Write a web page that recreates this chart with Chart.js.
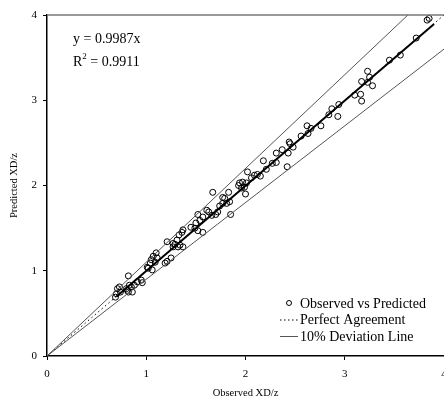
<!DOCTYPE html>
<html>
<head>
<meta charset="utf-8">
<script src="https://cdn.jsdelivr.net/npm/chart.js@4.4.1/dist/chart.umd.min.js"></script>
<style>
  html, body { margin: 0; padding: 0; background: #fff; }
  canvas { display: block; }
</style>
</head>
<body>
<canvas id="chart" width="444" height="398"></canvas>
<script>
// Observed vs predicted values
const observed = [
  0.69, 0.70, 0.71, 0.73, 0.74, 0.80, 0.81, 0.82, 0.83, 0.85, 0.86, 0.88, 0.91, 0.95, 0.96, 0.82,
  1.01, 1.02, 1.04, 1.05, 1.06, 1.07, 1.10, 1.09, 1.11, 1.19, 1.21, 1.25, 1.21, 1.27, 1.29, 1.27, 1.31, 1.32, 1.34, 1.37, 1.33, 1.36, 1.37,
  1.45, 1.49, 1.50, 1.52, 1.52, 1.57, 1.54, 1.57, 1.61, 1.63, 1.66, 1.70, 1.72, 1.67, 1.74, 1.77, 1.81, 1.77, 1.79, 1.83, 1.84, 1.85,
  1.93, 1.94, 1.97, 1.96, 1.99, 2.00, 2.01, 2.02, 2.06, 2.09, 2.12, 2.15, 2.18, 2.21, 2.27, 2.31, 2.31, 2.37, 2.42, 2.43,
  2.44, 2.45, 2.48, 2.56, 2.62, 2.66, 2.76, 2.63, 2.84, 2.87, 2.93, 2.94, 3.10, 3.16, 3.17, 3.23, 3.25, 3.23, 3.28, 3.17,
  3.45, 3.56, 3.72, 3.83, 3.85
];
const predicted = [
  0.69, 0.73, 0.79, 0.81, 0.75, 0.79, 0.77, 0.75, 0.83, 0.81, 0.75, 0.83, 0.87, 0.89, 0.86, 0.94,
  1.04, 1.03, 1.09, 1.13, 1.01, 1.17, 1.21, 1.10, 1.15, 1.09, 1.11, 1.15, 1.34, 1.32, 1.31, 1.28, 1.36, 1.28, 1.30, 1.28, 1.42, 1.45, 1.48,
  1.51, 1.50, 1.56, 1.66, 1.47, 1.45, 1.59, 1.63, 1.71, 1.69, 1.65, 1.66, 1.69, 1.92, 1.76, 1.79, 1.79, 1.86, 1.85, 1.92, 1.81, 1.66,
  2.00, 2.03, 2.04, 1.97, 1.98, 1.90, 2.03, 2.16, 2.09, 2.12, 2.13, 2.11, 2.29, 2.19, 2.26, 2.27, 2.38, 2.42, 2.22, 2.38,
  2.51, 2.49, 2.45, 2.58, 2.70, 2.67, 2.70, 2.61, 2.83, 2.90, 2.81, 2.95, 3.06, 3.07, 2.99, 3.34, 3.27, 3.21, 3.17, 3.22,
  3.47, 3.53, 3.73, 3.94, 3.96
];

const slope = 0.9987;
const rSquared = 0.9911;

// line end points [x, y]
const fitLine = [[0.7, 0.699], [3.9, 3.895]];
const perfectLine = [[0, 0], [4, 4]];
const upperLine = [[0, 0], [4, 4.4]];
const lowerLine = [[0, 0], [4, 3.6]];

const xTicks = [0, 1, 2, 3, 4];
const yTicks = [0, 1, 2, 3, 4];

const serif = '"Liberation Serif", "Times New Roman", serif';

function toPoints(pairs) {
  return pairs.map(p => ({ x: p[0], y: p[1] }));
}

const scatterPoints = observed.map((x, i) => ({ x: x, y: predicted[i] }));

// equation, frame top and legend drawn on the canvas
const annotations = {
  id: 'annotations',
  afterDraw(chart) {
    const ctx = chart.ctx;
    const area = chart.chartArea;
    ctx.save();

    ctx.strokeStyle = '#777';
    ctx.lineWidth = 1.5;
    ctx.beginPath();
    ctx.moveTo(area.left, area.top);
    ctx.lineTo(area.right, area.top);
    ctx.stroke();

    ctx.fillStyle = '#000';
    ctx.textBaseline = 'middle';
    ctx.textAlign = 'left';
    ctx.font = '14px ' + serif;
    ctx.fillText('y = ' + slope.toFixed(4) + 'x', 73, 39);
    ctx.fillText('R', 73, 62);
    const rw = ctx.measureText('R').width;
    ctx.font = '9px ' + serif;
    ctx.fillText('2', 73 + rw, 57);
    const sw = ctx.measureText('2').width;
    ctx.font = '14px ' + serif;
    ctx.fillText(' = ' + rSquared.toFixed(4), 73 + rw + sw, 62);

    // legend
    const lx = 280, lw = 18, tx = 300;
    ctx.strokeStyle = '#000';
    ctx.lineWidth = 1;
    ctx.beginPath();
    ctx.arc(lx + lw / 2, 303, 2.5, 0, Math.PI * 2);
    ctx.stroke();
    ctx.fillText('Observed vs Predicted', tx, 304);

    ctx.setLineDash([1.5, 2.5]);
    ctx.beginPath();
    ctx.moveTo(lx, 320);
    ctx.lineTo(lx + lw, 320);
    ctx.stroke();
    ctx.setLineDash([]);
    ctx.fillText('Perfect Agreement', tx, 320);

    ctx.strokeStyle = '#555';
    ctx.beginPath();
    ctx.moveTo(lx, 336.5);
    ctx.lineTo(lx + lw, 336.5);
    ctx.stroke();
    ctx.fillText('10% Deviation Line', tx, 337);

    ctx.restore();
  }
};

const ctx = document.getElementById('chart').getContext('2d');
new Chart(ctx, {
  type: 'scatter',
  data: {
    datasets: [
      {
        label: '10% Deviation Line',
        data: toPoints(upperLine),
        showLine: true,
        borderColor: '#555',
        borderWidth: 1,
        pointRadius: 0
      },
      {
        label: '10% Deviation Line lower',
        data: toPoints(lowerLine),
        showLine: true,
        borderColor: '#555',
        borderWidth: 1,
        pointRadius: 0
      },
      {
        label: 'Perfect Agreement',
        data: toPoints(perfectLine),
        showLine: true,
        borderColor: '#000',
        borderWidth: 1,
        borderDash: [1.5, 3],
        pointRadius: 0
      },
      {
        label: 'Observed vs Predicted',
        data: scatterPoints,
        pointRadius: 3,
        pointBorderWidth: 1,
        pointBorderColor: '#000',
        pointBackgroundColor: 'rgba(0,0,0,0)'
      },
      {
        label: 'Fit',
        data: toPoints(fitLine),
        showLine: true,
        borderColor: '#000',
        borderWidth: 2,
        pointRadius: 0
      }
    ]
  },
  options: {
    responsive: false,
    animation: false,
    devicePixelRatio: 1,
    layout: { autoPadding: false, padding: { top: 15, right: 0, bottom: 0, left: 0 } },
    plugins: {
      legend: { display: false },
      tooltip: { enabled: false }
    },
    scales: {
      x: {
        type: 'linear',
        min: 0,
        max: 4,
        afterBuildTicks: scale => { scale.ticks = xTicks.map(v => ({ value: v })); },
        afterFit: scale => {
          scale.height = 42;
          scale.paddingLeft = 0;
          scale.paddingRight = 0;
        },
        grid: { drawOnChartArea: false, drawTicks: true, tickLength: 4, color: '#000', lineWidth: 1 },
        border: { display: true, color: '#000', width: 1.5 },
        ticks: { color: '#000', font: { family: serif, size: 11 }, padding: 8, maxRotation: 0, autoSkip: false },
        title: {
          display: true,
          text: 'Observed XD/z',
          color: '#000',
          font: { family: serif, size: 10.5, lineHeight: 1 },
          padding: { top: 0, bottom: 0 }
        }
      },
      y: {
        type: 'linear',
        min: 0,
        max: 4,
        afterBuildTicks: scale => { scale.ticks = yTicks.map(v => ({ value: v })); },
        afterFit: scale => {
          scale.width = 47;
          scale.paddingTop = 0;
          scale.paddingBottom = 0;
        },
        grid: { drawOnChartArea: false, drawTicks: true, tickLength: 4, color: '#000', lineWidth: 1 },
        border: { display: true, color: '#000', width: 1.5 },
        ticks: { color: '#000', font: { family: serif, size: 11 }, padding: 6, autoSkip: false },
        title: {
          display: true,
          text: 'Predicted XD/z',
          color: '#000',
          font: { family: serif, size: 10.5, lineHeight: 1 },
          padding: { top: 9, bottom: 0 }
        }
      }
    }
  },
  plugins: [annotations]
});
</script>
</body>
</html>
